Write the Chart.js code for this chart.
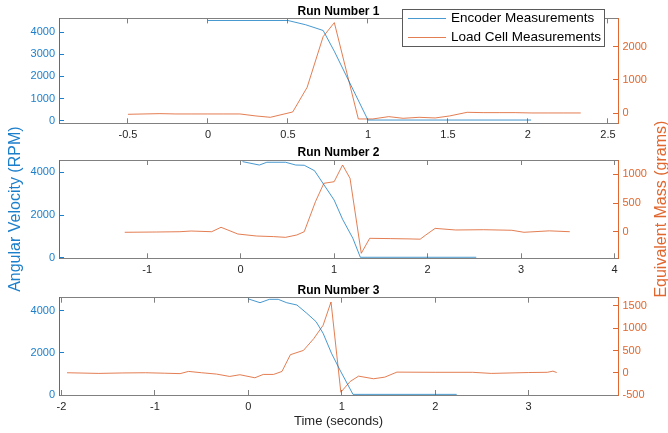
<!DOCTYPE html>
<html>
<head>
<meta charset="utf-8">
<script src="https://cdn.jsdelivr.net/npm/chart.js@4.4.0/dist/chart.umd.min.js"></script>
<style>
  html, body { margin: 0; padding: 0; background: #fff; }
  #fig { position: relative; width: 668px; height: 433px; overflow: hidden; }
  #fig canvas { position: absolute; left: 0; top: 0; }
</style>
</head>
<body>
<div id="fig">
  <canvas id="run1" width="668" height="433"></canvas>
  <canvas id="run2" width="668" height="433"></canvas>
  <canvas id="run3" width="668" height="433"></canvas>
</div>
<script>
/**
 * Encoder vs load cell, three runs - stacked yyaxis style plots
 */

// Run 1
const enc1Time = [0, 0.5, 0.61, 0.72, 0.79, 1.0, 2.02];
const enc1Rpm = [4520, 4520, 4330, 4070, 3130, 30, 30];
const load1Time = [-0.5, -0.4, -0.3, -0.2, -0.1, 0, 0.1, 0.2, 0.3, 0.39, 0.53, 0.62, 0.72, 0.79, 0.94, 1.03, 1.13, 1.22, 1.32, 1.42, 1.51, 1.62, 1.72, 1.82, 1.92, 2.02, 2.12, 2.22, 2.33];
const load1Grams = [-30, -20, -10, -20, -20, -20, -20, -20, -80, -120, 40, 780, 2300, 2720, -170, -170, -100, -150, -120, -140, -80, 30, 20, 20, 20, 10, 10, 10, 10];

// Run 2
const enc2Time = [0.02, 0.2, 0.28, 0.48, 0.59, 0.68, 0.79, 0.88, 1.0, 1.09, 1.2, 1.28, 2.52];
const enc2Rpm = [4500, 4340, 4470, 4470, 4340, 4330, 4075, 3485, 2700, 1800, 910, 20, 20];
const load2Time = [-1.24, -0.9, -0.65, -0.53, -0.31, -0.21, -0.03, 0.17, 0.35, 0.48, 0.6, 0.68, 0.8, 0.89, 1.0, 1.09, 1.17, 1.29, 1.38, 1.6, 1.8, 1.92, 1.98, 2.08, 2.3, 2.6, 2.9, 3.03, 3.3, 3.52];
const load2Grams = [-10, -5, 0, 12, 0, 77, -40, -75, -85, -98, -57, 0, 523, 843, 871, 1162, 930, -376, -115, -120, -125, -130, -57, 58, 30, 35, 25, -10, 15, 0];

// Run 3
const enc3Time = [0, 0.125, 0.225, 0.32, 0.41, 0.52, 0.625, 0.725, 0.8, 0.89, 0.98, 1.12, 2.23];
const enc3Rpm = [4560, 4380, 4540, 4540, 4380, 4270, 3880, 3480, 2930, 1980, 1190, 30, 30];
const load3Time = [-1.94, -1.6, -1.35, -1.1, -0.9, -0.73, -0.64, -0.5, -0.34, -0.2, -0.09, 0.07, 0.16, 0.27, 0.36, 0.45, 0.59, 0.7, 0.8, 0.885, 0.99, 1.09, 1.18, 1.34, 1.46, 1.59, 2.0, 2.4, 2.6, 3.0, 3.2, 3.26, 3.3];
const load3Grams = [0, -15, -5, 0, -10, -20, 30, 0, -30, -83, -45, -113, -38, -38, 29, 405, 502, 766, 1065, 1590, -437, -196, -76, -135, -99, 14, 10, 10, -15, 5, 10, 36, 5];

// Ticks + labels
const xTicks1 = [-0.5, 0, 0.5, 1, 1.5, 2, 2.5];
const xTicks2 = [-1, 0, 1, 2, 3, 4];
const xTicks3 = [-2, -1, 0, 1, 2, 3];
const rpmTicks1 = [0, 1000, 2000, 3000, 4000];
const rpmTicks2 = [0, 2000, 4000];
const rpmTicks3 = [0, 2000, 4000];
const gramTicks1 = [0, 1000, 2000];
const gramTicks2 = [0, 500, 1000];
const gramTicks3 = [-500, 0, 500, 1000, 1500];
const runTitles = ["Run Number 1", "Run Number 2", "Run Number 3"];
const seriesLabels = ["Encoder Measurements", "Load Cell Measurements"];
const xAxisLabel = "Time (seconds)";
const leftAxisLabel = "Angular Velocity (RPM)";
const rightAxisLabel = "Equivalent Mass (grams)";

// thin matlab lines render lighter than the raw colours
const BLUE_LINE = "rgba(0, 114, 189, 0.72)";
const ORANGE_LINE = "rgba(217, 83, 25, 0.75)";
const BLUE = "#1c7fcb";
const ORANGE = "#e0672f";
const AXIS_GRAY = "#808080";
const TEXT_DARK = "#262626";
const FONT = "'Liberation Sans', Arial, Helvetica, sans-serif";

Chart.defaults.font.family = FONT;

function fixedSize(size) {
  return (scale) => {
    if (scale.isHorizontal()) scale.height = size;
    else scale.width = size;
  };
}

function useTicks(list) {
  return (scale) => { scale.ticks = list.map(v => ({ value: v })); };
}

const toPoints = (xs, ys) => xs.map((x, i) => ({ x, y: ys[i] }));

// legend box drawn over the top axes (matlab style)
const boxLegendPlugin = {
  id: "boxLegend",
  afterDraw(chart, args, opts) {
    const { ctx } = chart;
    const { left, top, width, height } = opts;
    ctx.save();
    ctx.fillStyle = "#fff";
    ctx.fillRect(left, top, width, height);
    ctx.strokeStyle = "#5a5a5a";
    ctx.lineWidth = 1;
    ctx.strokeRect(left + 0.5, top + 0.5, width, height);
    const rowH = height / chart.data.datasets.length;
    ctx.font = `13.5px ${FONT}`;
    ctx.textBaseline = "middle";
    chart.data.datasets.forEach((ds, i) => {
      const y = Math.round(top + rowH * (i + 0.5)) + 0.5;
      ctx.strokeStyle = ds.borderColor;
      ctx.beginPath();
      ctx.moveTo(left + 6, y);
      ctx.lineTo(left + 44, y);
      ctx.stroke();
      ctx.fillStyle = "#000";
      ctx.fillText(ds.label, left + 49, y);
    });
    ctx.restore();
  }
};

// right axis label reads bottom-to-top like the left one
const rightTitlePlugin = {
  id: "rightTitle",
  afterDraw(chart, args, opts) {
    if (!opts.text) return;
    const { ctx, chartArea } = chart;
    ctx.save();
    ctx.translate(opts.x, (chartArea.top + chartArea.bottom) / 2);
    ctx.rotate(-Math.PI / 2);
    ctx.font = `${opts.size}px ${FONT}`;
    ctx.fillStyle = opts.color;
    ctx.textAlign = "center";
    ctx.textBaseline = "middle";
    ctx.fillText(opts.text, 0, 0);
    ctx.restore();
  }
};

function makeRunChart(canvasId, run) {
  const tickFont = { size: 11, family: FONT };
  return new Chart(document.getElementById(canvasId), {
    type: "line",
    data: {
      datasets: [
        {
          label: seriesLabels[0],
          data: toPoints(run.encTime, run.encRpm),
          borderColor: BLUE_LINE,
          borderWidth: 1,
          pointRadius: 0,
          tension: 0,
          yAxisID: "yL"
        },
        {
          label: seriesLabels[1],
          data: toPoints(run.loadTime, run.loadGrams),
          borderColor: ORANGE_LINE,
          borderWidth: 1,
          pointRadius: 0,
          tension: 0,
          yAxisID: "yR"
        }
      ]
    },
    options: {
      responsive: false,
      animation: false,
      layout: { padding: { top: run.padTop, bottom: run.padBottom, left: 0, right: 0 } },
      plugins: {
        legend: { display: false },
        tooltip: { enabled: false },
        title: {
          display: true,
          text: run.title,
          fullSize: false,
          color: "#000",
          font: { size: 12, weight: "bold", family: FONT },
          padding: { top: 4, bottom: 0 }
        },
        boxLegend: run.legend,
        rightTitle: run.rightTitle
      },
      scales: {
        x: {
          type: "linear",
          position: "bottom",
          min: run.xMin,
          max: run.xMax,
          afterBuildTicks: useTicks(run.xTicks),
          afterFit: fixedSize(run.xAxisHeight),
          ticks: { color: TEXT_DARK, font: tickFont, padding: 10, maxRotation: 0, autoSkip: false, callback: v => String(v) },
          grid: { drawOnChartArea: false, tickLength: -5, tickColor: AXIS_GRAY },
          border: { color: AXIS_GRAY, width: 1 },
          title: {
            display: run.showXTitle,
            text: xAxisLabel,
            color: TEXT_DARK,
            font: { size: 13, family: FONT },
            padding: { top: 0, bottom: 3.5 }
          }
        },
        xTop: {
          type: "linear",
          position: "top",
          min: run.xMin,
          max: run.xMax,
          afterBuildTicks: useTicks(run.xTicks),
          afterFit: fixedSize(0),
          ticks: { display: false },
          grid: { drawOnChartArea: false, tickLength: -5, tickColor: AXIS_GRAY },
          border: { color: AXIS_GRAY, width: 1 }
        },
        yL: {
          type: "linear",
          position: "left",
          min: run.rpmMin,
          max: run.rpmMax,
          afterBuildTicks: useTicks(run.rpmTicks),
          afterFit: fixedSize(59),
          ticks: { color: BLUE, font: tickFont, padding: 9, callback: v => String(v) },
          grid: { drawOnChartArea: false, tickLength: -5, tickColor: BLUE },
          border: { color: BLUE, width: 1 },
          title: {
            display: run.showLeftTitle,
            text: leftAxisLabel,
            color: BLUE,
            font: { size: 16, family: FONT },
            padding: { top: 6, bottom: 0 }
          }
        },
        yR: {
          type: "linear",
          position: "right",
          min: run.gramMin,
          max: run.gramMax,
          afterBuildTicks: useTicks(run.gramTicks),
          afterFit: fixedSize(50),
          ticks: { color: ORANGE, font: tickFont, padding: 9.5, callback: v => String(v) },
          grid: { drawOnChartArea: false, tickLength: -5, tickColor: ORANGE },
          border: { color: ORANGE, width: 1 }
        }
      }
    },
    plugins: [boxLegendPlugin, rightTitlePlugin]
  });
}

makeRunChart("run1", {
  title: runTitles[0],
  encTime: enc1Time, encRpm: enc1Rpm, loadTime: load1Time, loadGrams: load1Grams,
  xTicks: xTicks1, rpmTicks: rpmTicks1, gramTicks: gramTicks1,
  xMin: -0.931, xMax: 2.563, rpmMin: -117, rpmMax: 4615, gramMin: -300, gramMax: 2847,
  padTop: 0, padBottom: 289.7, xAxisHeight: 20,
  showXTitle: false, showLeftTitle: false,
  legend: { left: 402, top: 9, width: 202, height: 37 },
  rightTitle: false
});

makeRunChart("run2", {
  title: runTitles[1],
  encTime: enc2Time, encRpm: enc2Rpm, loadTime: load2Time, loadGrams: load2Grams,
  xTicks: xTicks2, rpmTicks: rpmTicks2, gramTicks: gramTicks2,
  xMin: -1.943, xMax: 4.036, rpmMin: -28, rpmMax: 4576, gramMin: -463, gramMax: 1249,
  padTop: 141.6, padBottom: 154.7, xAxisHeight: 20,
  showXTitle: false, showLeftTitle: true,
  legend: false,
  rightTitle: { text: rightAxisLabel, x: 662, size: 16, color: ORANGE }
});

makeRunChart("run3", {
  title: runTitles[2],
  encTime: enc3Time, encRpm: enc3Rpm, loadTime: load3Time, loadGrams: load3Grams,
  xTicks: xTicks3, rpmTicks: rpmTicks3, gramTicks: gramTicks3,
  xMin: -2.026, xMax: 3.956, rpmMin: 0, rpmMax: 4617, gramMin: -500, gramMax: 1686,
  padTop: 279.3, padBottom: 0, xAxisHeight: 38,
  showXTitle: true, showLeftTitle: false,
  legend: false,
  rightTitle: false
});
</script>
</body>
</html>
